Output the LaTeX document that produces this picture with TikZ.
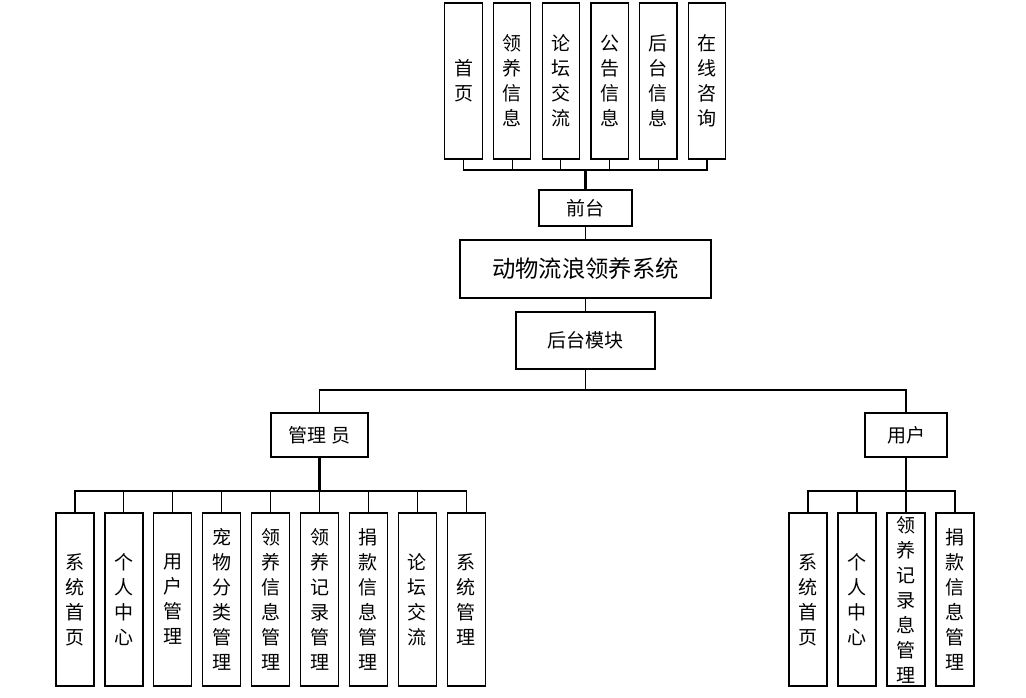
\documentclass[tikz,border=0pt]{standalone}
\usepackage{fontspec}
\setmainfont{Noto Sans CJK SC}
\usetikzlibrary{positioning}
\tikzset{%
  box/.style={draw, line width=0.9pt, inner sep=0pt, align=center,
    font=\fontsize{14.25}{18.75}\selectfont},
  tallbox/.style={box, minimum width=28pt, minimum height=117pt},
  lowbox/.style={box, minimum width=28.5pt, minimum height=129.75pt},
  link/.style={line width=0.8pt},
  trunk/.style={line width=1.6pt}
}

\begin{document}
\begin{tikzpicture}[x=0.75pt,y=-0.75pt]
  \useasboundingbox (0,0) rectangle (1026,698);

  % front end pages
  \foreach \txt [count=\i from 0] in {首\\页, 领\\养\\信\\息, 论\\坛\\交\\流,
      公\\告\\信\\息, 后\\台\\信\\息, 在\\线\\咨\\询}
    \node[tallbox] (t\i) at ({463.5+48.7*\i},81) {\txt};

  \node[box, minimum width=69.75pt, minimum height=27pt] (front) at (585.5,208) {前台};
  \node[box, minimum width=188.25pt, minimum height=43.5pt,
    font=\fontsize{17.5}{20}\selectfont] (system) at (585.5,269) {动物流浪领养系统};
  \node[box, minimum width=104.25pt, minimum height=42.75pt] (backend) at (585.5,340.5) {后台模块};

  \node[box, minimum width=72.75pt, minimum height=33pt] (admin) at (319.5,435) {管理\hspace{0.25em}员};
  \node[box, minimum width=61.5pt, minimum height=33pt] (user) at (906,435) {用户};

  % admin modules
  \foreach \txt [count=\i from 0] in {系\\统\\首\\页, 个\\人\\中\\心, 用\\户\\管\\理,
      宠\\物\\分\\类\\管\\理, 领\\养\\信\\息\\管\\理, 领\\养\\记\\录\\管\\理,
      捐\\款\\信\\息\\管\\理, 论\\坛\\交\\流, 系\\统\\管\\理}
    \node[lowbox] (a\i) at ({75+48.9*\i},599.5) {\txt};

  % user modules
  \foreach \txt [count=\i from 0] in {系\\统\\首\\页, 个\\人\\中\\心,
      领\\养\\记\\录\\息\\管\\理, 捐\\款\\信\\息\\管\\理}
    \node[lowbox] (u\i) at ({808+49*\i},599.5) {\txt};

  % connectors
  \coordinate (topbus) at (585.5,170);
  \foreach \i in {0,...,5}
    \draw[link] (t\i.south) |- (topbus);
  \draw[trunk] (topbus) -- (front.north);
  \draw[link] (front.south) -- (system.north);
  \draw[link] (system.south) -- (backend.north);

  \coordinate (midbus) at (585.5,390);
  \draw[link] (backend.south) -- (midbus);
  \draw[link] (admin.north) |- (midbus);
  \draw[link] (user.north) |- (midbus);

  \coordinate (adminbus) at (319.5,491);
  \draw[trunk] (admin.south) -- (adminbus);
  \foreach \i in {0,...,8}
    \draw[link] (a\i.north) |- (adminbus);

  \coordinate (userbus) at (906,491);
  \draw[trunk] (user.south) -- (userbus);
  \foreach \i in {0,...,3}
    \draw[link] (u\i.north) |- (userbus);
\end{tikzpicture}
\end{document}
